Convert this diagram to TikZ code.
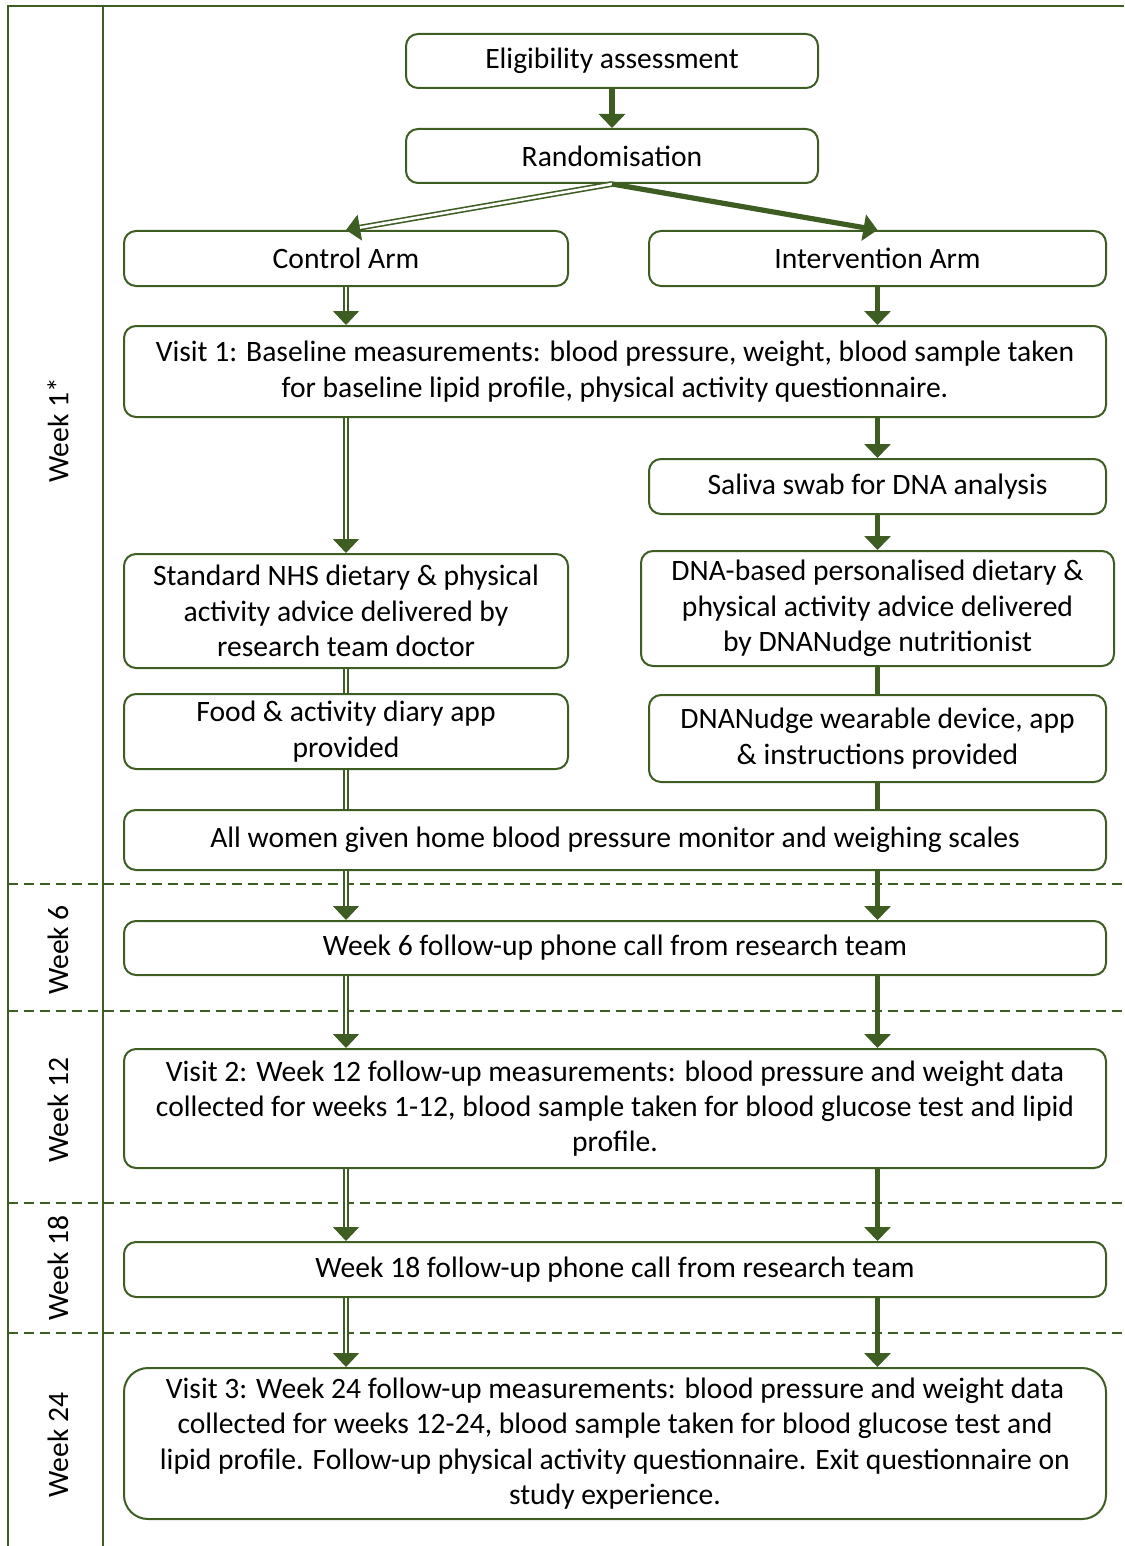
\documentclass[tikz,border=0pt]{standalone}
\usepackage{fontspec}
\setmainfont{Carlito}
\usepackage{tikz}
\usetikzlibrary{arrows.meta}
\definecolor{leaf}{RGB}{61,93,35}

\begin{document}
\begin{tikzpicture}[x=0.5pt,y=-0.5pt,>={Triangle[width=13pt,length=7pt]},
  font=\fontsize{14.8}{17.7}\selectfont]
\tikzstyle{stage}=[draw=leaf,line width=1pt,rounded corners=6pt,align=center,inner sep=2pt,text=black]
\tikzstyle{ctrlflow}=[draw=leaf,double=white,double distance=1.3pt,line width=0.8pt,fill=leaf]
\tikzstyle{intvflow}=[draw=leaf,line width=2.6pt,fill=leaf]
\tikzstyle{period}=[draw=leaf,line width=0.8pt,dash pattern=on 5pt off 3pt]
\tikzstyle{weeklabel}=[rotate=90,text=black]
\useasboundingbox (0,0) rectangle (1124,1546);

% frame and time bands
\draw[leaf,line width=1pt] (8,1546) -- (8,6) -- (1124,6);
\draw[leaf,line width=1pt] (103,6) -- (103,1546);
\foreach \y in {884,1011,1203,1333}
  \draw[period] (8,\y) -- (1124,\y);
\node[weeklabel] (w1) at (58,430) {Week 1*};
\node[weeklabel] (w6) at (58,950) {Week 6};
\node[weeklabel] (w12) at (58,1110) {Week 12};
\node[weeklabel] (w18) at (58,1268) {Week 18};
\node[weeklabel] (w24) at (58,1445) {Week 24};

% stages
\node[stage,minimum width=206pt,minimum height=27pt] (elig) at (612,61) {Eligibility assessment};
\node[stage,minimum width=206pt,minimum height=27pt] (rand) at (612,156) {Randomisation};
\node[stage,minimum width=222pt,minimum height=27.5pt] (ctrl) at (346,258.5) {Control Arm};
\node[stage,minimum width=228.5pt,minimum height=27.5pt] (intv) at (877.5,258.5) {Intervention Arm};
\node[stage,minimum width=491pt,minimum height=45.5pt] (visit1) at (615,371.5)
  {Visit 1: Baseline measurements: blood pressure, weight, blood sample taken\\for baseline lipid profile, physical activity questionnaire.};
\node[stage,minimum width=228.5pt,minimum height=27.5pt] (saliva) at (877.5,486.5) {Saliva swab for DNA analysis};
\node[stage,minimum width=222pt,minimum height=57pt] (nhs) at (346,611)
  {Standard NHS dietary \& physical\\activity advice delivered by\\research team doctor};
\node[stage,minimum width=236.5pt,minimum height=57.5pt] (dnaadv) at (877.5,608.5)
  {DNA-based personalised dietary \&\\physical activity advice delivered\\by DNANudge nutritionist};
\node[stage,minimum width=222pt,minimum height=37.5pt] (diary) at (346,731.5)
  {Food \& activity diary app\\provided};
\node[stage,minimum width=228.5pt,minimum height=43.5pt] (wear) at (877.5,738.5)
  {DNANudge wearable device, app\\\& instructions provided};
\node[stage,minimum width=491pt,minimum height=30pt] (allw) at (615,840)
  {All women given home blood pressure monitor and weighing scales};
\node[stage,minimum width=491pt,minimum height=27pt] (wk6) at (615,948)
  {Week 6 follow-up phone call from research team};
\node[stage,minimum width=491pt,minimum height=59.5pt] (visit2) at (615,1108.5)
  {Visit 2: Week 12 follow-up measurements: blood pressure and weight data\\collected for weeks 1-12, blood sample taken for blood glucose test and lipid\\profile.};
\node[stage,minimum width=491pt,minimum height=27.5pt] (wk18) at (615,1269.5)
  {Week 18 follow-up phone call from research team};
\node[stage,minimum width=491pt,minimum height=75.5pt,rounded corners=12pt] (visit3) at (615,1443.5)
  {Visit 3: Week 24 follow-up measurements: blood pressure and weight data\\collected for weeks 12-24, blood sample taken for blood glucose test and\\lipid profile. Follow-up physical activity questionnaire. Exit questionnaire on\\study experience.};

% flows
\draw[intvflow,->] (elig) -- (rand);
\draw[ctrlflow,->] (rand.south) -- (ctrl.north);
\draw[intvflow,->] (rand.south) -- (intv.north);
\draw[ctrlflow,->] (ctrl) -- (ctrl |- visit1.north);
\draw[intvflow,->] (intv) -- (intv |- visit1.north);
\draw[ctrlflow,->] (nhs |- visit1.south) -- (nhs);
\draw[intvflow,->] (saliva |- visit1.south) -- (saliva);
\draw[intvflow,->] (saliva) -- (dnaadv);
\draw[ctrlflow] (nhs) -- (diary);
\draw[ctrlflow] (diary) -- (diary |- allw.north);
\draw[intvflow] (dnaadv) -- (wear);
\draw[intvflow] (wear) -- (wear |- allw.north);
\foreach \a/\b in {allw/wk6,wk6/visit2,visit2/wk18,wk18/visit3} {
  \draw[ctrlflow,->] (ctrl |- \a.south) -- (ctrl |- \b.north);
  \draw[intvflow,->] (intv |- \a.south) -- (intv |- \b.north);
}
\end{tikzpicture}
\end{document}
